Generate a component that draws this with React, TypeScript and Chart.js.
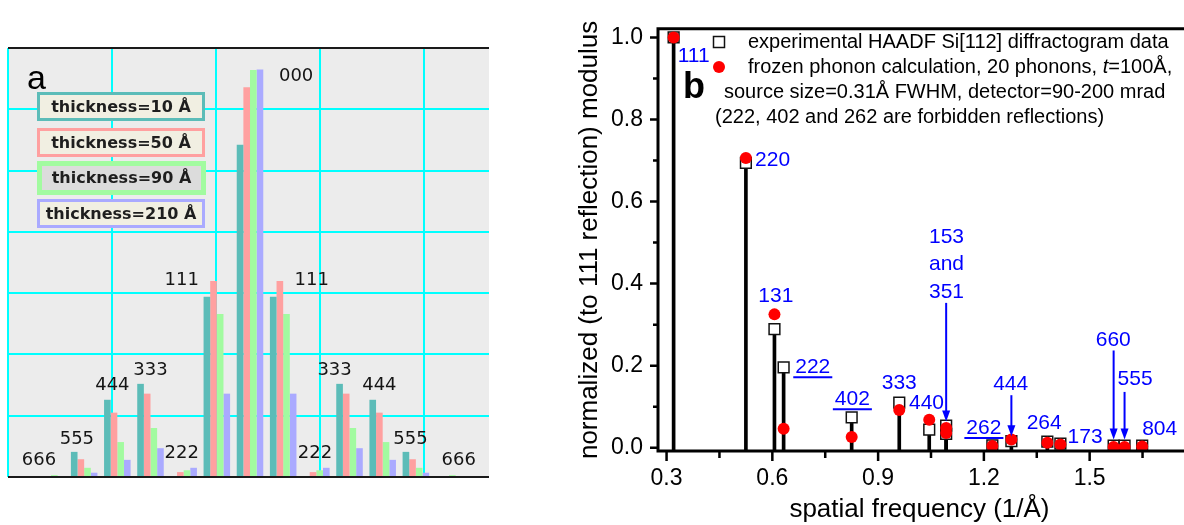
import React, { useEffect, useRef } from "react";
import { Chart, registerables } from "chart.js";
Chart.register(...registerables);

const SANS = "'Liberation Sans', Arial, Helvetica, sans-serif";

// ---------------- Panel a : bar chart of beam intensities ----------------
const reflectionsA = ["666", "555", "444", "333", "222", "111", "000", "111", "222", "333", "444", "555", "666"];
const thicknessLabels = ["thickness=10 Å", "thickness=50 Å", "thickness=90 Å", "thickness=210 Å"];
const thickness10 = [0.0, 0.41, 1.26, 1.52, 0.0, 2.94, 5.42, 2.94, 0.0, 1.52, 1.26, 0.41, 0.0];
const thickness50 = [0.0, 0.29, 1.05, 1.36, 0.08, 3.2, 6.36, 3.2, 0.08, 1.36, 1.05, 0.29, 0.0];
const thickness90 = [0.03, 0.15, 0.57, 0.8, 0.11, 2.66, 6.64, 2.66, 0.11, 0.8, 0.57, 0.15, 0.03];
const thickness210 = [0.0, 0.07, 0.28, 0.47, 0.15, 1.36, 6.65, 1.36, 0.15, 0.47, 0.28, 0.07, 0.0];
const thicknessColors = ["#5cbcb8", "#ffa0a0", "#a2fba0", "#aaaaff"];
const thicknessBoxFill = ["#f1efe2", "#f1efe2", "#dcdcdc", "#f1efe2"];
// label placement for the reflection names (x in category units, y in bar units)
const labelXA = [-0.36, 0.78, 1.85, 3.0, 3.94, 3.94, 7.39, 7.86, 7.96, 8.55, 9.9, 10.84, 12.29];
const labelYA = [0.27, 0.62, 1.49, 1.74, 0.39, 3.21, 6.53, 3.21, 0.39, 1.74, 1.49, 0.62, 0.27];

// ---------------- Panel b : stem plot ----------------
const reflectionsB = ["111", "220", "131", "222", "402", "333", "440", "153", "351", "262", "444", "264", "173", "660", "555", "804"];
const frequency = [0.32, 0.525, 0.606, 0.632, 0.825, 0.96, 1.045, 1.093, 1.093, 1.224, 1.278, 1.38, 1.417, 1.568, 1.599, 1.649];
const experimental = [1.0, 0.694, 0.289, 0.196, 0.074, 0.11, 0.044, 0.054, 0.034, 0.006, 0.016, 0.015, 0.01, 0.005, 0.005, 0.005];
const frozenPhonon = [1.0, 0.706, 0.325, 0.046, 0.026, 0.092, 0.068, 0.048, 0.036, 0.004, 0.02, 0.012, 0.008, 0.002, 0.002, 0.003];
const xTicksB = [0.3, 0.6, 0.9, 1.2, 1.5];
const xMinorB = [0.45, 0.75, 1.05, 1.35, 1.65];
const yTicksB = [0.0, 0.2, 0.4, 0.6, 0.8, 1.0];
const yMinorB = [0.1, 0.3, 0.5, 0.7, 0.9];
const legendB = [
  "experimental HAADF Si[112] diffractogram data",
  "frozen phonon calculation, 20 phonons, ",
  "source size=0.31Å FWHM, detector=90-200 mrad",
  "(222, 402 and 262 are forbidden reflections)",
];
type Ann = { text: string; x: number; y: number; align: CanvasTextAlign; underline?: boolean };
const annotationsB: Ann[] = [
  { text: "111", x: 0.3315, y: 0.954, align: "left" },
  { text: "220", x: 0.551, y: 0.701, align: "left" },
  { text: "131", x: 0.61, y: 0.369, align: "center" },
  { text: "222", x: 0.665, y: 0.196, align: "left", underline: true },
  { text: "402", x: 0.827, y: 0.118, align: "center", underline: true },
  { text: "333", x: 0.96, y: 0.158, align: "center" },
  { text: "440", x: 0.9875, y: 0.108, align: "left" },
  { text: "153", x: 1.094, y: 0.513, align: "center" },
  { text: "and", x: 1.094, y: 0.447, align: "center" },
  { text: "351", x: 1.094, y: 0.379, align: "center" },
  { text: "262", x: 1.2, y: 0.048, align: "center", underline: true },
  { text: "444", x: 1.276, y: 0.156, align: "center" },
  { text: "264", x: 1.371, y: 0.06, align: "center" },
  { text: "173", x: 1.487, y: 0.026, align: "center" },
  { text: "660", x: 1.567, y: 0.263, align: "center" },
  { text: "555", x: 1.629, y: 0.166, align: "center" },
  { text: "804", x: 1.649, y: 0.044, align: "left" },
];
const arrowsX = [1.093, 1.278, 1.568, 1.599];
const arrowsFrom = [0.353, 0.128, 0.237, 0.136];
const arrowsTo = [0.064, 0.028, 0.02, 0.02];

const panelAPlugin = {
  id: "panelA",
  beforeDraw(chart: any) {
    const { ctx, chartArea: a } = chart;
    ctx.save();
    ctx.fillStyle = "#ececec";
    ctx.fillRect(a.left, a.top, a.right - a.left, a.bottom - a.top);
    ctx.restore();
  },
  afterDraw(chart: any) {
    const { ctx } = chart;
    const xs = chart.scales.x;
    const ys = chart.scales.y;
    ctx.save();
    // reflection labels
    ctx.fillStyle = "#151515";
    ctx.font = "18px 'DejaVu Sans', sans-serif";
    ctx.textAlign = "center";
    ctx.textBaseline = "middle";
    reflectionsA.forEach((t, i) => {
      ctx.fillText(t, xs.getPixelForValue(labelXA[i]), ys.getPixelForValue(labelYA[i]));
    });
    // panel letter
    ctx.font = `34px ${SANS}`;
    ctx.fillStyle = "#000";
    ctx.textAlign = "left";
    ctx.textBaseline = "alphabetic";
    ctx.fillText("a", 27, 89);
    // legend boxes
    const boxes = [
      [37, 92, 168, 29, 3],
      [37, 128, 168, 29, 3],
      [37, 161, 169, 34, 5],
      [37, 199, 168, 29, 3],
    ];
    boxes.forEach((b, k) => {
      const [x, y, w, h, lw] = b;
      ctx.fillStyle = thicknessColors[k];
      ctx.fillRect(x, y, w, h);
      ctx.fillStyle = thicknessBoxFill[k];
      ctx.fillRect(x + lw, y + lw, w - 2 * lw, h - 2 * lw);
      ctx.fillStyle = "#1e1e1e";
      ctx.font = "bold 16px 'DejaVu Sans', sans-serif";
      ctx.textAlign = "center";
      ctx.textBaseline = "middle";
      ctx.fillText(thicknessLabels[k], x + w / 2, y + h / 2 + 1);
    });
    ctx.restore();
  },
};

const panelBPlugin = {
  id: "panelB",
  afterDraw(chart: any) {
    const { ctx, chartArea: a } = chart;
    const xs = chart.scales.x;
    const ys = chart.scales.y;
    ctx.save();
    // frame
    ctx.strokeStyle = "#000";
    ctx.lineWidth = 3;
    ctx.beginPath();
    ctx.moveTo(a.right + 5, a.top);
    ctx.lineTo(a.left, a.top);
    ctx.lineTo(a.left, a.bottom);
    ctx.lineTo(a.right + 5, a.bottom);
    ctx.stroke();
    // ticks
    ctx.lineWidth = 2.5;
    ctx.beginPath();
    xTicksB.forEach((v) => {
      const px = xs.getPixelForValue(v);
      ctx.moveTo(px, a.bottom);
      ctx.lineTo(px, a.bottom + 10);
    });
    xMinorB.forEach((v) => {
      const px = xs.getPixelForValue(v);
      ctx.moveTo(px, a.bottom);
      ctx.lineTo(px, a.bottom + 7);
    });
    yTicksB.forEach((v) => {
      const py = ys.getPixelForValue(v);
      ctx.moveTo(a.left, py);
      ctx.lineTo(a.left - 8, py);
    });
    yMinorB.forEach((v) => {
      const py = ys.getPixelForValue(v);
      ctx.moveTo(a.left, py);
      ctx.lineTo(a.left - 5, py);
    });
    ctx.stroke();

    // annotations
    ctx.fillStyle = "#0000ff";
    ctx.strokeStyle = "#0000ff";
    ctx.font = `21px ${SANS}`;
    ctx.textBaseline = "middle";
    annotationsB.forEach((an) => {
      const px = xs.getPixelForValue(an.x);
      const py = ys.getPixelForValue(an.y);
      ctx.textAlign = an.align;
      ctx.fillText(an.text, px, py);
      if (an.underline) {
        const w = ctx.measureText(an.text).width;
        const x0 = an.align === "center" ? px - w / 2 : px;
        ctx.lineWidth = 2;
        ctx.beginPath();
        ctx.moveTo(x0 - 2, py + 10);
        ctx.lineTo(x0 + w + 2, py + 10);
        ctx.stroke();
      }
    });
    arrowsX.forEach((x, i) => {
      const px = xs.getPixelForValue(x);
      const y0 = ys.getPixelForValue(arrowsFrom[i]);
      const y1 = ys.getPixelForValue(arrowsTo[i]);
      ctx.lineWidth = 2;
      ctx.beginPath();
      ctx.moveTo(px, y0);
      ctx.lineTo(px, y1 - 8);
      ctx.stroke();
      ctx.beginPath();
      ctx.moveTo(px - 4, y1 - 11);
      ctx.lineTo(px + 4, y1 - 11);
      ctx.lineTo(px, y1);
      ctx.closePath();
      ctx.fill();
    });

    // legend
    const mx = 719 - 545;
    ctx.fillStyle = "#fff";
    ctx.strokeStyle = "#111";
    ctx.lineWidth = 1.5;
    ctx.fillRect(mx - 5.5, 42 - 5.5, 11, 11);
    ctx.strokeRect(mx - 5.5, 42 - 5.5, 11, 11);
    ctx.fillStyle = "#ff0000";
    ctx.beginPath();
    ctx.arc(mx, 67, 6, 0, Math.PI * 2);
    ctx.fill();
    ctx.fillStyle = "#000";
    ctx.font = `20px ${SANS}`;
    ctx.textAlign = "left";
    ctx.textBaseline = "middle";
    ctx.fillText(legendB[0], 748 - 545, 42);
    ctx.fillText(legendB[1], 748 - 545, 67);
    let wx = 748 - 545 + ctx.measureText(legendB[1]).width;
    ctx.font = `italic 20px ${SANS}`;
    ctx.fillText("t", wx, 67);
    wx += ctx.measureText("t").width;
    ctx.font = `20px ${SANS}`;
    ctx.fillText("=100Å,", wx, 67);
    ctx.fillText(legendB[2], 724 - 545, 92);
    ctx.fillText(legendB[3], 715 - 545, 117);
    // panel letter
    ctx.font = `bold 36px ${SANS}`;
    ctx.fillText("b", 683 - 545, 88);
    ctx.restore();
  },
};

export default function App() {
  const refA = useRef<HTMLCanvasElement>(null);
  const refB = useRef<HTMLCanvasElement>(null);

  useEffect(() => {
    const seriesA = [thickness10, thickness50, thickness90, thickness210];
    const chartA = new Chart(refA.current as HTMLCanvasElement, {
      type: "bar",
      data: {
        datasets: seriesA.map((vals, k) => ({
          label: thicknessLabels[k],
          data: vals.map((v, i) => ({ x: i, y: v })),
          backgroundColor: thicknessColors[k],
          borderWidth: 0,
          categoryPercentage: 0.8,
          barPercentage: 1.0,
        })),
      },
      options: {
        responsive: false,
        animation: false,
        devicePixelRatio: 1,
        layout: { padding: { left: 8, top: 48, right: 6, bottom: 48 } },
        plugins: { legend: { display: false }, tooltip: { enabled: false } },
        events: [],
        scales: {
          x: { type: "linear", min: -1.296, max: 13.205, offset: false, grid: { offset: false }, display: false },
          xg: {
            type: "linear",
            position: "bottom",
            min: 0,
            max: 4.625,
            offset: false,
            ticks: { display: false, stepSize: 1, includeBounds: false },
            grid: { color: "#00ffff", lineWidth: 2, drawTicks: false, offset: false },
            border: { display: false },
            afterFit: (s: any) => {
              s.height = 0;
            },
          },
          y: {
            min: 0,
            max: 7,
            ticks: { display: false, stepSize: 1 },
            grid: {
              color: (c: any) => (c.tick && (c.tick.value === 0 || c.tick.value === 7) ? "#1a1a1a" : "#00ffff"),
              lineWidth: 2,
              drawTicks: false,
            },
            border: { display: false },
            afterFit: (s: any) => {
              s.width = 0;
            },
          },
        },
      } as any,
      plugins: [panelAPlugin],
    });

    const chartB = new Chart(refB.current as HTMLCanvasElement, {
      type: "scatter",
      data: {
        datasets: [
          {
            type: "scatter",
            label: "frozen phonon calculation",
            data: frequency.map((x, i) => ({ x, y: frozenPhonon[i] })),
            pointStyle: "circle",
            pointRadius: 6,
            backgroundColor: "#ff0000",
            borderColor: "#ff0000",
            borderWidth: 0,
            order: 0,
          },
          {
            type: "scatter",
            label: "experimental",
            data: frequency.map((x, i) => ({ x, y: experimental[i] })),
            pointStyle: "rect",
            pointRadius: 7.6,
            backgroundColor: "#ffffff",
            borderColor: "#111111",
            borderWidth: 1.5,
            order: 1,
          },
          {
            type: "bar",
            label: "stems",
            data: frequency.map((x, i) => ({ x, y: experimental[i] })),
            backgroundColor: "#000000",
            barThickness: 3,
            base: -0.008,
            grouped: false,
            order: 2,
          } as any,
        ],
      },
      options: {
        responsive: false,
        animation: false,
        devicePixelRatio: 1,
        events: [],
        layout: { padding: { left: 0, top: 24, right: 0, bottom: 0 } },
        plugins: { legend: { display: false }, tooltip: { enabled: false } },
        scales: {
          x: {
            type: "linear",
            min: 0.2757,
            max: 1.7588,
            offset: false,
            grid: { display: false, drawTicks: false },
            border: { display: false },
            afterBuildTicks: (s: any) => {
              s.ticks = xTicksB.map((v) => ({ value: v }));
            },
            ticks: {
              padding: 14,
              color: "#000",
              font: { family: SANS, size: 23 },
              callback: (v: any) => Number(v).toFixed(1),
            },
            title: {
              display: true,
              text: "spatial frequency (1/Å)",
              color: "#000",
              font: { family: SANS, size: 26 },
              padding: { top: 0, bottom: 0 },
            },
            afterFit: (s: any) => {
              s.height = 74;
            },
          },
          y: {
            type: "linear",
            min: -0.008,
            max: 1.021,
            grid: { display: false, drawTicks: false },
            border: { display: false },
            afterBuildTicks: (s: any) => {
              s.ticks = yTicksB.map((v) => ({ value: v }));
            },
            ticks: {
              padding: 15,
              color: "#000",
              font: { family: SANS, size: 23 },
              callback: (v: any) => Number(v).toFixed(1),
            },
            title: {
              display: true,
              text: "normalized (to 111 reflection) modulus",
              color: "#000",
              font: { family: SANS, size: 26 },
              padding: { top: 29, bottom: 0 },
            },
            afterFit: (s: any) => {
              s.width = 113;
            },
          },
        },
      } as any,
      plugins: [panelBPlugin],
    });

    return () => {
      chartA.destroy();
      chartB.destroy();
    };
  }, []);

  return (
    <div
      style={{
        position: "absolute",
        left: 0,
        top: 0,
        width: 1184,
        height: 525,
        overflow: "hidden",
        background: "#ffffff",
      }}
    >
      <canvas ref={refA} width={495} height={525} style={{ position: "absolute", left: 0, top: 0, width: 495, height: 525 }} />
      <canvas ref={refB} width={645} height={525} style={{ position: "absolute", left: 545, top: 0, width: 645, height: 525 }} />
    </div>
  );
}
